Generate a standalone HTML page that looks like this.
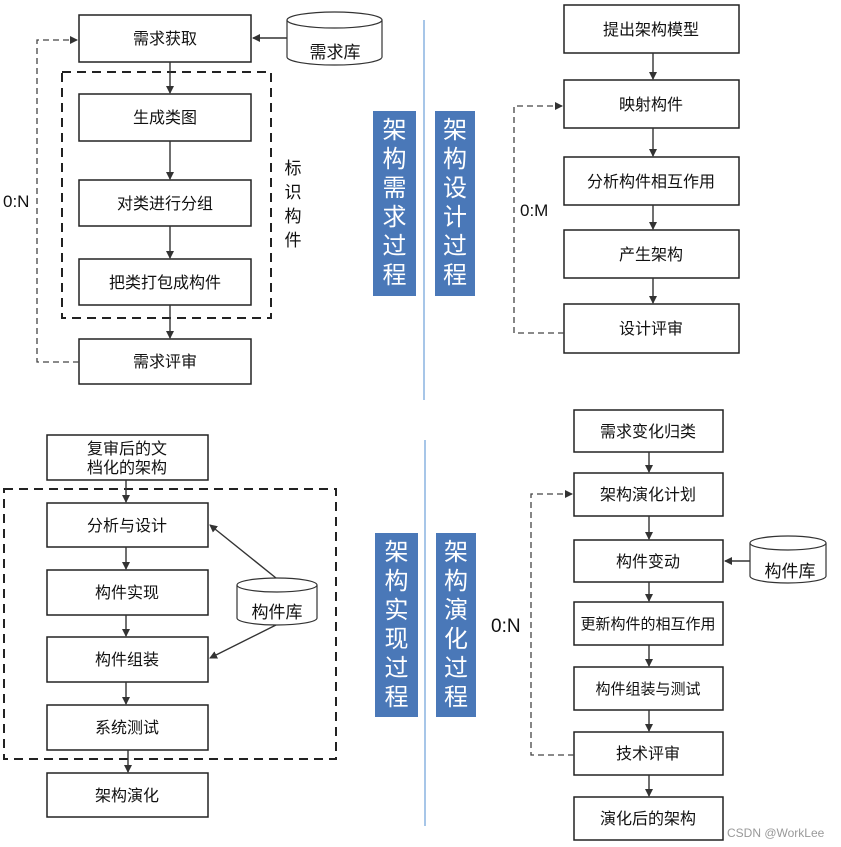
<!DOCTYPE html>
<html><head><meta charset="utf-8"><style>
html,body{margin:0;padding:0;background:#fff;}
svg{display:block;font-family:"Liberation Sans","Noto Sans CJK SC",sans-serif;}
</style></head><body>
<svg width="841" height="847" viewBox="0 0 841 847" xmlns="http://www.w3.org/2000/svg">
<defs>
<marker id="a" markerWidth="8" markerHeight="8" refX="7" refY="4" orient="auto" markerUnits="userSpaceOnUse"><path d="M0,0 L8,4 L0,8 Z" fill="#333"/></marker>
</defs>
<g fill="#fff" stroke="#222" stroke-width="1.5">
<!-- top-left -->
<rect x="79" y="15" width="172" height="47"/>
<rect x="79" y="94" width="172" height="47"/>
<rect x="79" y="180" width="172" height="46"/>
<rect x="79" y="259" width="172" height="46"/>
<rect x="79" y="339" width="172" height="45"/>
<!-- top-right -->
<rect x="564" y="5" width="175" height="48"/>
<rect x="564" y="80" width="175" height="48"/>
<rect x="564" y="157" width="175" height="48"/>
<rect x="564" y="230" width="175" height="48"/>
<rect x="564" y="304" width="175" height="49"/>
<!-- bottom-left -->
<rect x="47" y="435" width="161" height="45"/>
<rect x="47" y="503" width="161" height="44"/>
<rect x="47" y="570" width="161" height="45"/>
<rect x="47" y="637" width="161" height="45"/>
<rect x="47" y="705" width="161" height="45"/>
<rect x="47" y="773" width="161" height="44"/>
<!-- bottom-right -->
<rect x="574" y="410" width="149" height="42"/>
<rect x="574" y="473" width="149" height="43"/>
<rect x="574" y="540" width="149" height="42"/>
<rect x="574" y="602" width="149" height="43"/>
<rect x="574" y="667" width="149" height="43"/>
<rect x="574" y="732" width="149" height="43"/>
<rect x="574" y="797" width="149" height="43"/>
</g>
<!-- dashed frames -->
<g fill="none" stroke="#222" stroke-width="2" stroke-dasharray="9,6">
<rect x="62" y="72" width="209" height="246"/>
<rect x="4" y="489" width="332" height="270"/>
</g>
<!-- dashed loops -->
<g fill="none" stroke="#444" stroke-width="1.3" stroke-dasharray="6,4">
<path d="M79,362 H37 V40 H77" marker-end="url(#a)"/>
<path d="M564,333 H514 V106 H562" marker-end="url(#a)"/>
<path d="M574,755 H531 V494 H572" marker-end="url(#a)"/>
</g>
<!-- solid arrows -->
<g stroke="#333" stroke-width="1.4" fill="none" marker-end="url(#a)">
<line x1="170" y1="62" x2="170" y2="93"/>
<line x1="170" y1="141" x2="170" y2="179"/>
<line x1="170" y1="226" x2="170" y2="258"/>
<line x1="170" y1="305" x2="170" y2="338"/>
<line x1="287" y1="38" x2="253" y2="38"/>
<line x1="653" y1="53" x2="653" y2="79"/>
<line x1="653" y1="128" x2="653" y2="156"/>
<line x1="653" y1="205" x2="653" y2="229"/>
<line x1="653" y1="278" x2="653" y2="303"/>
<line x1="126" y1="480" x2="126" y2="502"/>
<line x1="126" y1="547" x2="126" y2="569"/>
<line x1="126" y1="615" x2="126" y2="636"/>
<line x1="126" y1="682" x2="126" y2="704"/>
<line x1="128" y1="750" x2="128" y2="772"/>
<line x1="276" y1="578" x2="210" y2="525"/>
<line x1="276" y1="625" x2="210" y2="658"/>
<line x1="649" y1="452" x2="649" y2="472"/>
<line x1="649" y1="516" x2="649" y2="539"/>
<line x1="649" y1="582" x2="649" y2="601"/>
<line x1="649" y1="645" x2="649" y2="666"/>
<line x1="649" y1="710" x2="649" y2="731"/>
<line x1="649" y1="775" x2="649" y2="796"/>
<line x1="750" y1="561" x2="725" y2="561"/>
</g>
<!-- databases -->
<g fill="#fff" stroke="#333" stroke-width="1.2">
<path d="M287,20 V57 A47.5,8 0 0 0 382,57 V20"/><ellipse cx="334.5" cy="20" rx="47.5" ry="8"/>
<path d="M237,585 V618 A40,7 0 0 0 317,618 V585"/><ellipse cx="277" cy="585" rx="40" ry="7"/>
<path d="M750,543 V576 A38,7 0 0 0 826,576 V543"/><ellipse cx="788" cy="543" rx="38" ry="7"/>
</g>
<!-- blue separator lines -->
<line x1="424" y1="20" x2="424" y2="400" stroke="#8ab4e0" stroke-width="1.5"/>
<line x1="425" y1="440" x2="425" y2="826" stroke="#8ab4e0" stroke-width="1.5"/>
<!-- blue labels -->
<g fill="#4a78b8">
<rect x="373" y="111" width="43" height="185"/>
<rect x="435" y="111" width="40" height="185"/>
<rect x="375" y="533" width="43" height="184"/>
<rect x="436" y="533" width="40" height="184"/>
</g>
<g fill="#fff" font-size="24" text-anchor="middle">
<text x="394.5" y="138">架</text><text x="394.5" y="167">构</text><text x="394.5" y="196">需</text><text x="394.5" y="225">求</text><text x="394.5" y="254">过</text><text x="394.5" y="283">程</text>
<text x="455" y="138">架</text><text x="455" y="167">构</text><text x="455" y="196">设</text><text x="455" y="225">计</text><text x="455" y="254">过</text><text x="455" y="283">程</text>
<text x="396.5" y="560">架</text><text x="396.5" y="589">构</text><text x="396.5" y="618">实</text><text x="396.5" y="647">现</text><text x="396.5" y="676">过</text><text x="396.5" y="705">程</text>
<text x="456" y="560">架</text><text x="456" y="589">构</text><text x="456" y="618">演</text><text x="456" y="647">化</text><text x="456" y="676">过</text><text x="456" y="705">程</text>
</g>
<!-- box texts -->
<g fill="#111" font-size="16" text-anchor="middle">
<text x="165" y="44">需求获取</text>
<text x="165" y="123">生成类图</text>
<text x="165" y="209">对类进行分组</text>
<text x="165" y="288">把类打包成构件</text>
<text x="165" y="367">需求评审</text>
<text x="651" y="35">提出架构模型</text>
<text x="651" y="110">映射构件</text>
<text x="651" y="187">分析构件相互作用</text>
<text x="651" y="260">产生架构</text>
<text x="651" y="334">设计评审</text>
<text x="127" y="454">复审后的文</text>
<text x="127" y="473">档化的架构</text>
<text x="127" y="531">分析与设计</text>
<text x="127" y="598">构件实现</text>
<text x="127" y="665">构件组装</text>
<text x="127" y="733">系统测试</text>
<text x="127" y="801">架构演化</text>
<text x="648" y="437">需求变化归类</text>
<text x="648" y="500">架构演化计划</text>
<text x="648" y="567">构件变动</text>
<text x="648" y="629" font-size="15">更新构件的相互作用</text>
<text x="648" y="694" font-size="15">构件组装与测试</text>
<text x="648" y="759">技术评审</text>
<text x="648" y="824">演化后的架构</text>
<text x="335" y="58" font-size="17">需求库</text>
<text x="277" y="618" font-size="17">构件库</text>
<text x="790" y="577" font-size="17">构件库</text>
<text x="293" y="174" font-size="17">标</text><text x="293" y="198" font-size="17">识</text><text x="293" y="222" font-size="17">构</text><text x="293" y="246" font-size="17">件</text>
</g>
<g fill="#111" font-size="17">
<text x="3" y="207">0:N</text>
<text x="520" y="216">0:M</text>
<text x="491" y="632" font-size="19">0:N</text>
</g>
<text x="727" y="837" font-size="12" fill="#999">CSDN @WorkLee</text>
</svg>
</body></html>
